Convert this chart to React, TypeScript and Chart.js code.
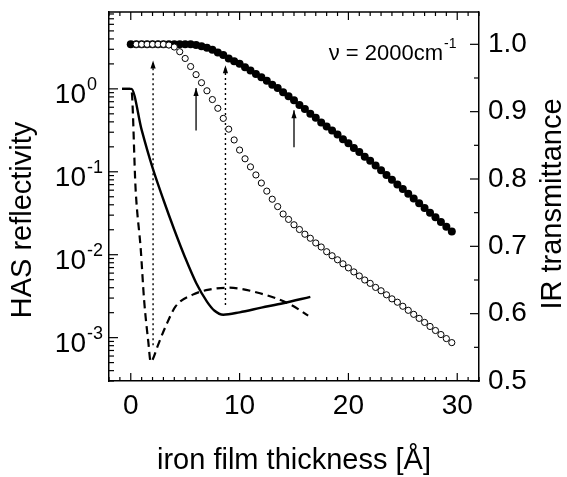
import React, { useEffect, useRef } from 'react';
import { Chart, registerables } from 'chart.js';

Chart.register(...registerables);

// ---------- data ----------
const thickness = [
  0, 0.5, 1, 1.5, 2, 2.5, 3, 3.5, 4, 4.5, 5, 5.5, 6, 6.5, 7, 7.5, 8, 8.5, 9, 9.5,
  10, 10.5, 11, 11.5, 12, 12.5, 13, 13.5, 14, 14.5, 15, 15.5, 16, 16.5, 17, 17.5, 18, 18.5, 19, 19.5,
  20, 20.5, 21, 21.5, 22, 22.5, 23, 23.5, 24, 24.5, 25, 25.5, 26, 26.5, 27, 27.5, 28, 28.5, 29, 29.5,
];
const irFilled = [
  1.0, 1.0, 1.0, 1.0, 1.0, 1.0, 1.0, 1.0, 1.0, 1.0, 1.0, 1.0, 0.999, 0.997, 0.995, 0.992, 0.988, 0.984, 0.979, 0.975,
  0.971, 0.966, 0.961, 0.956, 0.951, 0.946, 0.94, 0.935, 0.929, 0.923, 0.917, 0.91, 0.904, 0.897, 0.891, 0.884, 0.878, 0.872, 0.866, 0.859,
  0.853, 0.846, 0.84, 0.833, 0.827, 0.82, 0.813, 0.806, 0.799, 0.792, 0.785, 0.778, 0.771, 0.764, 0.757, 0.75, 0.743, 0.736, 0.729, 0.722,
];
const irOpen = [
  null, 1.0, 1.0, 1.0, 1.0, 1.0, 1.0, 0.999, 0.996, 0.989, 0.979, 0.967, 0.955, 0.943, 0.931, 0.918, 0.905, 0.89, 0.874, 0.858,
  0.843, 0.83, 0.818, 0.806, 0.794, 0.782, 0.77, 0.759, 0.748, 0.74, 0.732, 0.725, 0.718, 0.712, 0.705, 0.699, 0.692, 0.686, 0.68, 0.674,
  0.668, 0.662, 0.656, 0.65, 0.645, 0.639, 0.634, 0.628, 0.622, 0.617, 0.611, 0.605, 0.599, 0.593, 0.587, 0.581, 0.575, 0.569, 0.563, 0.557,
];

const hasSolidT = [-0.8, 0.05, 1, 2, 3, 4, 5, 6, 7, 7.7, 8.5, 10, 12, 14, 16.5];
const hasSolidR = [1, 1, 0.32, 0.112, 0.046, 0.02, 0.0092, 0.0046, 0.00272, 0.00211, 0.00189, 0.00202, 0.0023, 0.0026, 0.0031];

const hasDashT = [-0.8, 0.05, 0.45, 0.92, 1.22, 1.62, 1.83, 2.05, 2.45, 3.2, 4.1, 5.7, 7.2, 9, 11.6, 14.7, 16.3];
const hasDashR = [1, 1, 0.06, 0.0115, 0.0029, 0.00087, 0.00051, 0.00056, 0.00078, 0.00136, 0.00236, 0.0033, 0.0038, 0.004, 0.0035, 0.0025, 0.00184];

const dottedArrowX = [2.05, 8.7];
const dottedArrowFrom = [0.553, 0.613];
const dottedArrowTo = [0.976, 0.969];
const solidArrowX = [6.0, 15.0];
const solidArrowFrom = [0.872, 0.847];
const solidArrowTo = [0.935, 0.902];

const xTickValues = [0, 10, 20, 30];
const hasTickValues = [1, 0.1, 0.01, 0.001];
const hasTickExponents = ['0', '-1', '-2', '-3'];
const irTickValues = [0.5, 0.6, 0.7, 0.8, 0.9, 1.0];

const xTitle = 'iron film thickness [Å]';
const leftTitle = 'HAS reflectivity';
const rightTitle = 'IR transmittance';
const noteMain = 'ν = 2000cm';
const noteSup = '-1';

const FONT = '"Liberation Sans", Arial, Helvetica, sans-serif';

const decorPlugin = {
  id: 'decor',
  afterDraw(chart: any) {
    const { ctx, chartArea: ca, scales } = chart;
    const x = scales.x, y = scales.y, y1 = scales.y1;
    const line = (x0: number, y0: number, x2: number, y2: number) => {
      ctx.beginPath();
      ctx.moveTo(x0, y0);
      ctx.lineTo(x2, y2);
      ctx.stroke();
    };
    ctx.save();
    ctx.strokeStyle = '#000';
    ctx.lineWidth = 1.5;
    line(ca.left, ca.top, ca.right, ca.top);
    ctx.lineWidth = 1.2;
    for (let v = Math.ceil(x.min); v <= x.max; v++) {
      const px = x.getPixelForValue(v);
      const len = v % 10 === 0 ? 8 : 4;
      line(px, ca.bottom, px, ca.bottom - len);
      line(px, ca.top, px, ca.top + len);
    }
    for (let d = -5; d <= 1; d++) {
      for (let k = 1; k <= 9; k++) {
        const v = k * Math.pow(10, d);
        if (v < y.min * 0.999 || v > y.max) continue;
        const py = y.getPixelForValue(v);
        line(ca.left, py, ca.left + (k === 1 ? 9 : 5), py);
      }
    }
    for (let i = 10; i <= 21; i++) {
      const v = i * 0.05;
      if (v > y1.max) continue;
      const py = y1.getPixelForValue(v);
      line(ca.right, py, ca.right - (i % 2 === 0 ? 9 : 5), py);
    }
    chart.data.datasets.forEach((ds: any, i: number) => {
      if (!ds.isArrow) return;
      const meta = chart.getDatasetMeta(i);
      const tip = meta.data[meta.data.length - 1];
      ctx.fillStyle = '#000';
      ctx.beginPath();
      ctx.moveTo(tip.x, tip.y);
      ctx.lineTo(tip.x - 2.6, tip.y + 8);
      ctx.lineTo(tip.x + 2.6, tip.y + 8);
      ctx.closePath();
      ctx.fill();
    });
    ctx.fillStyle = '#000';
    hasTickValues.forEach((v, i) => {
      const py = y.getPixelForValue(v);
      ctx.font = `28px ${FONT}`;
      ctx.textAlign = 'right';
      ctx.textBaseline = 'alphabetic';
      ctx.fillText('10', 86, py + 14);
      ctx.font = `18px ${FONT}`;
      ctx.textAlign = 'left';
      ctx.fillText(hasTickExponents[i], 87, py + 1);
    });
    ctx.font = `29px ${FONT}`;
    ctx.textAlign = 'center';
    ctx.textBaseline = 'middle';
    ctx.save();
    ctx.translate(23, 220);
    ctx.rotate(-Math.PI / 2);
    ctx.fillText(leftTitle, 0, 0);
    ctx.restore();
    ctx.save();
    ctx.translate(553, 204);
    ctx.rotate(-Math.PI / 2);
    ctx.fillText(rightTitle, 0, 0);
    ctx.restore();
    ctx.textBaseline = 'alphabetic';
    ctx.font = `22px ${FONT}`;
    ctx.textAlign = 'right';
    ctx.fillText(noteMain, 443, 60);
    ctx.font = `14px ${FONT}`;
    ctx.textAlign = 'left';
    ctx.fillText(noteSup, 444, 48);
    ctx.restore();
  },
};

export default function App() {
  const canvasRef = useRef<HTMLCanvasElement | null>(null);

  useEffect(() => {
    if (!canvasRef.current) return;
    const pts = (xs: number[], ys: (number | null)[]) => xs.map((v, i) => ({ x: v, y: ys[i] }));
    const arrowSets: any[] = [];
    dottedArrowX.forEach((ax, i) => {
      arrowSets.push({
        isArrow: true,
        data: [{ x: ax, y: dottedArrowFrom[i] }, { x: ax, y: dottedArrowTo[i] }],
        yAxisID: 'y1',
        borderColor: '#000',
        borderWidth: 1.4,
        borderDash: [2, 3],
        pointRadius: 0,
        showLine: true,
      });
    });
    solidArrowX.forEach((ax, i) => {
      arrowSets.push({
        isArrow: true,
        data: [{ x: ax, y: solidArrowFrom[i] }, { x: ax, y: solidArrowTo[i] }],
        yAxisID: 'y1',
        borderColor: '#000',
        borderWidth: 1.3,
        pointRadius: 0,
        showLine: true,
      });
    });

    const noPad = (s: any) => {
      s.paddingTop = 0;
      s.paddingBottom = 0;
      s.paddingLeft = 0;
      s.paddingRight = 0;
    };

    const chart = new Chart(canvasRef.current, {
      type: 'line',
      data: {
        datasets: [
          {
            label: 'IR open',
            data: pts(thickness, irOpen),
            yAxisID: 'y1',
            showLine: false,
            pointRadius: 3.1,
            pointBorderWidth: 1,
            pointBorderColor: '#000',
            pointBackgroundColor: '#fff',
          },
          {
            label: 'IR filled',
            data: pts(thickness, irFilled),
            yAxisID: 'y1',
            showLine: false,
            pointRadius: 4,
            pointBorderWidth: 0,
            pointBorderColor: '#000',
            pointBackgroundColor: '#000',
          },
          {
            label: 'HAS solid',
            data: pts(hasSolidT, hasSolidR),
            yAxisID: 'y',
            borderColor: '#000',
            borderWidth: 2.4,
            pointRadius: 0,
            cubicInterpolationMode: 'monotone',
          },
          {
            label: 'HAS dashed',
            data: pts(hasDashT, hasDashR),
            yAxisID: 'y',
            borderColor: '#000',
            borderWidth: 2.2,
            borderDash: [8, 5],
            pointRadius: 0,
            cubicInterpolationMode: 'monotone',
          },
          ...arrowSets,
        ],
      },
      options: {
        animation: false,
        responsive: true,
        maintainAspectRatio: false,
        layout: { padding: { top: 12, left: 0, right: 0, bottom: 0 } },
        plugins: { legend: { display: false }, tooltip: { enabled: false } },
        scales: {
          x: {
            type: 'linear',
            position: 'bottom',
            min: -2,
            max: 32,
            afterBuildTicks: (s: any) => { s.ticks = xTickValues.map((v) => ({ value: v })); },
            afterFit: (s: any) => { s.height = 96; noPad(s); },
            grid: { display: false, drawTicks: false },
            border: { display: true, color: '#000', width: 1.5 },
            ticks: { color: '#000', font: { family: FONT, size: 28 }, padding: 8, maxRotation: 0 },
            title: {
              display: true,
              text: xTitle,
              color: '#000',
              font: { family: FONT, size: 29, lineHeight: 1.0 },
              padding: { top: 0, bottom: 2 },
            },
          },
          y: {
            type: 'logarithmic',
            position: 'left',
            min: 3e-4,
            max: 8.45,
            afterBuildTicks: (s: any) => { s.ticks = hasTickValues.map((v) => ({ value: v })); },
            afterFit: (s: any) => { s.width = 109; noPad(s); },
            grid: { display: false, drawTicks: false },
            border: { display: true, color: '#000', width: 1.5 },
            ticks: { display: false },
          },
          y1: {
            type: 'linear',
            position: 'right',
            min: 0.5,
            max: 1.048,
            afterBuildTicks: (s: any) => { s.ticks = irTickValues.map((v) => ({ value: v })); },
            afterFit: (s: any) => { s.width = 88; noPad(s); },
            grid: { display: false, drawTicks: false },
            border: { display: true, color: '#000', width: 1.5 },
            ticks: {
              color: '#000',
              font: { family: FONT, size: 28 },
              padding: 9,
              callback: (v: any) => Number(v).toFixed(1),
            },
          },
        },
      },
      plugins: [decorPlugin],
    } as any);
    return () => chart.destroy();
  }, []);

  return (
    <div style={{ position: 'fixed', left: 0, top: 0, width: 567, height: 477, background: '#fff' }}>
      <canvas ref={canvasRef} />
    </div>
  );
}
